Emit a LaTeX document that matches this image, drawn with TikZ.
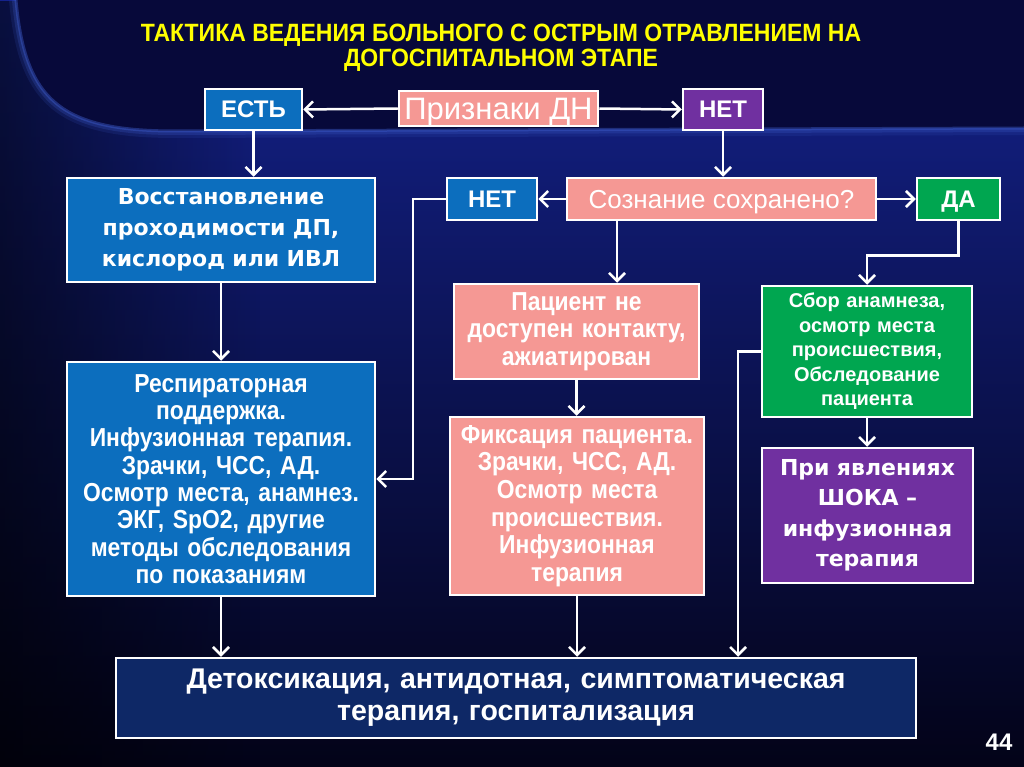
\documentclass[tikz,border=0pt]{standalone}
\usepackage{fontspec}
\setmainfont{Liberation Sans}
\newfontfamily\nar[FakeStretch=0.88]{Liberation Sans}
\newfontfamily\narT[FakeStretch=0.92]{Liberation Sans}
\newfontfamily\dv{DejaVu Sans}
\usetikzlibrary{arrows.meta,fadings}
\definecolor{cblue}{RGB}{12,110,190}
\definecolor{cpink}{RGB}{245,152,148}
\definecolor{cpurple}{RGB}{112,48,160}
\definecolor{cgreen}{RGB}{0,166,80}
\definecolor{cnavy}{RGB}{14,40,102}
\definecolor{cyellow}{RGB}{255,255,0}
\definecolor{bgtop}{RGB}{20,34,140}
\definecolor{bgmid}{RGB}{10,14,80}
\definecolor{bgbot}{RGB}{3,3,24}
\definecolor{panelc}{RGB}{7,9,58}
\definecolor{glowc}{RGB}{60,90,200}
\tikzset{
  bx/.style={draw=white, line width=2.5pt, inner sep=2pt, align=center, text=white},
  bluebx/.style={bx, fill=cblue},
  pinkbx/.style={bx, fill=cpink},
  purplebx/.style={bx, fill=cpurple},
  greenbx/.style={bx, fill=cgreen},
  navybx/.style={bx, fill=cnavy},
  arr/.style={draw=white, line width=2.5pt, -{Straight Barb[length=8pt,width=16pt]}},
  small/.style={font=\bfseries\fontsize{24}{26}\selectfont, text height=17pt, text depth=0pt}
}
\begin{document}
\begin{tikzpicture}[x=1pt,y=-1pt]
\useasboundingbox (0,0) rectangle (1024,767);
% background
\shade[top color=bgtop, middle color=bgmid, bottom color=bgbot] (0,0) rectangle (1024,767);
\fill[black, path fading=east, opacity=0.55] (0,0) rectangle (260,767);
\draw[glowc, line width=14pt, opacity=0.15] (16,0) .. controls (25,100) and (60,131) .. (175,131) -- (1024,128);
\draw[glowc, line width=8pt, opacity=0.25] (16,0) .. controls (25,100) and (60,131) .. (175,131) -- (1024,128);
\fill[panelc] (16,0) .. controls (25,100) and (60,131) .. (175,131) -- (1024,128) -- (1024,0) -- cycle;
\draw[glowc, line width=3pt, opacity=0.45] (16,0) .. controls (25,100) and (60,131) .. (175,131) -- (1024,128);

% title
\node[text=cyellow, align=center, font=\narT\bfseries\fontsize{25}{25}\selectfont] (title) at (501,48)
  {ТАКТИКА ВЕДЕНИЯ БОЛЬНОГО С ОСТРЫМ ОТРАВЛЕНИЕМ НА\\ДОГОСПИТАЛЬНОМ ЭТАПЕ};

% nodes
\node[bluebx, small, minimum width=97, minimum height=41] (est) at (253.5,109.5) {ЕСТЬ};
\node[pinkbx, font=\fontsize{31}{32}\selectfont, text height=22pt, text depth=0pt, minimum width=199, minimum height=35] (priz) at (498.5,108.5) {Признаки ДН};
\node[purplebx, small, minimum width=80, minimum height=41] (net1) at (723,109.5) {НЕТ};

\node[bluebx, font=\dv\bfseries\fontsize{22}{31}\selectfont, text width=300, minimum width=308, minimum height=104] (vosst) at (221,230)
  {Восстановление\\проходимости ДП,\\кислород или ИВЛ};
\node[bluebx, small, minimum width=90, minimum height=42] (net2) at (492,199) {НЕТ};
\node[pinkbx, font=\fontsize{26}{27}\selectfont, text height=18.5pt, text depth=0pt, minimum width=309, minimum height=42] (soz) at (721.5,199) {Сознание сохранено?};
\node[greenbx, small, minimum width=83, minimum height=42] (da) at (958.5,199) {ДА};

\node[pinkbx, font=\nar\bfseries\fontsize{26}{27.5}\selectfont, text width=237, minimum width=245, minimum height=95] (pac) at (576.5,331.5)
  {Пациент не\\доступен контакту,\\ажиатирован};
\node[greenbx, font=\bfseries\fontsize{20}{24.5}\selectfont, text width=202, minimum width=210, minimum height=131] (sbor) at (867,351.5)
  {Сбор анамнеза,\\осмотр места\\происшествия,\\Обследование\\пациента};

\node[bluebx, font=\nar\bfseries\fontsize{26}{27.3}\selectfont, text width=300, minimum width=308, minimum height=234] (resp) at (221,479)
  {Респираторная\\поддержка.\\Инфузионная терапия.\\Зрачки, ЧСС, АД.\\Осмотр места, анамнез.\\ЭКГ, SpO2, другие\\методы обследования\\по показаниям};
\node[pinkbx, font=\nar\bfseries\fontsize{26}{27.6}\selectfont, text width=246, minimum width=254, minimum height=178] (fix) at (577,506)
  {Фиксация пациента.\\Зрачки, ЧСС, АД.\\Осмотр места\\происшествия.\\Инфузионная\\терапия};
\node[purplebx, font=\dv\bfseries\fontsize{22}{30.5}\selectfont, text width=203, minimum width=211, minimum height=135] (shock) at (867.5,515.5)
  {При явлениях\\ШОКА –\\инфузионная\\терапия};

\node[navybx, font=\bfseries\fontsize{28.5}{32}\selectfont, text width=790, minimum width=800, minimum height=80] (detox) at (516,698)
  {Детоксикация, антидотная, симптоматическая\\терапия, госпитализация};

\node[text=white, font=\bfseries\fontsize{24}{26}\selectfont] (num) at (999,742) {44};

% connectors
\coordinate (cNet) at (413,199);
\coordinate (cSoz) at (617,0);
\coordinate (cSbor) at (738,0);

\draw[arr] (priz.west) -- (est.east);
\draw[arr] (priz.east) -- (net1.west);
\draw[arr] (est.south) -- (est.south |- vosst.north);
\draw[arr] (net1.south) -- (net1.south |- soz.north);
\draw[arr] (soz.west) -- (net2.east);
\draw[arr] (soz.east) -- (da.west);
\draw[arr] (net2.west) -- (cNet) |- (resp.east);
\draw[arr] (soz.south -| cSoz) -- (pac.north -| cSoz);
\draw[arr] (da.south) -- ++(0,34) -| (sbor.north);
\draw[arr] (vosst.south) -- (resp.north);
\draw[arr] (pac.south) -- (pac.south |- fix.north);
\draw[arr] (sbor.south) -- (sbor.south |- shock.north);
\draw[arr] (resp.south) -- (resp.south |- detox.north);
\draw[arr] (fix.south) -- (fix.south |- detox.north);
\draw[arr] (sbor.west) -| (detox.north -| cSbor);
\end{tikzpicture}
\end{document}
